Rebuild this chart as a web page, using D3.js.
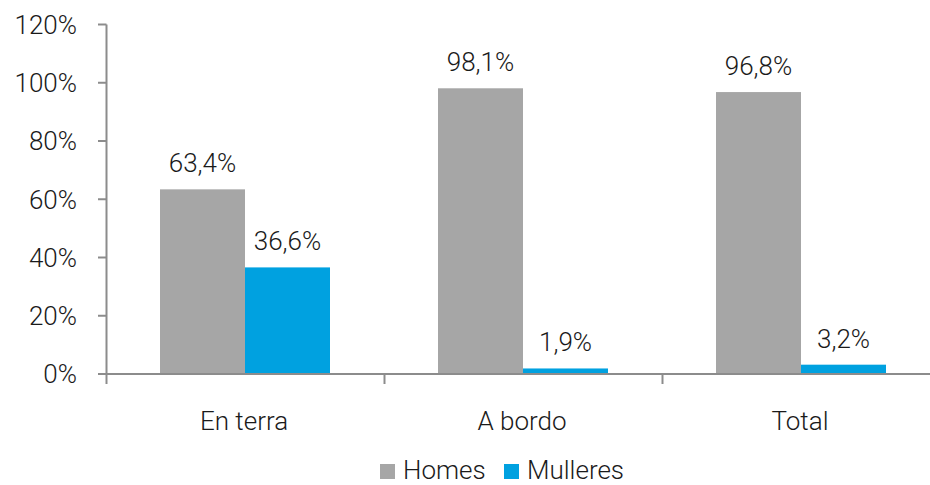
<!DOCTYPE html>
<html>
<head>
<meta charset="utf-8">
<script src="https://cdn.jsdelivr.net/npm/d3@7"></script>
<style>
  body { margin: 0; background: #fff; }
  text { font-family: "Roboto", "Liberation Sans", sans-serif; font-weight: 300; fill: #1a1a1a; }
</style>
</head>
<body>
<div id="chart"></div>
<script>
// chart data
const categories = ['En terra', 'A bordo', 'Total'];
const seriesNames = ['Homes', 'Mulleres'];
const homes = [63.4, 98.1, 96.8];
const mulleres = [36.6, 1.9, 3.2];
const yTicks = [0, 20, 40, 60, 80, 100, 120];

const colors = { Homes: '#a6a6a6', Mulleres: '#00a1e0' };
const width = 930, height = 485;
const margin = {top: 24.5, right: -9, bottom: 111, left: 105};
const fontSize = '26px';

const svg = d3.select('#chart').append('svg')
    .attr('width', width)
    .attr('height', height);

const x = d3.scaleBand()
    .domain(categories)
    .range([margin.left, width - margin.right])
    .paddingInner(0)
    .paddingOuter(0);

const xInner = d3.scaleBand()
    .domain(seriesNames)
    .range([55, x.bandwidth() - 53]);

const y = d3.scaleLinear()
    .domain([0, 120])
    .range([height - margin.bottom, margin.top]);

const rows = categories.map((c, i) => ({cat: c, Homes: homes[i], Mulleres: mulleres[i]}));

// bars
const groups = svg.selectAll('.grp')
  .data(rows)
  .join('g')
    .attr('class', 'grp')
    .attr('transform', d => `translate(${x(d.cat)},0)`);

groups.selectAll('rect')
  .data(d => seriesNames.map(s => ({key: s, value: d[s]})))
  .join('rect')
    .attr('x', d => xInner(d.key))
    .attr('width', xInner.bandwidth())
    .attr('y', d => y(d.value))
    .attr('height', d => y(0) - y(d.value))
    .attr('fill', d => colors[d.key]);

groups.selectAll('.lbl')
  .data(d => seriesNames.map(s => ({key: s, value: d[s]})))
  .join('text')
    .attr('class', 'lbl')
    .attr('x', d => xInner(d.key) + xInner.bandwidth() / 2)
    .attr('y', d => y(d.value) - 17)
    .attr('text-anchor', 'middle')
    .style('font-size', fontSize)
    .text(d => d.value.toFixed(1).replace('.', ',') + '%');

// y axis
const axisColor = '#8c8c8c';
svg.append('line')
    .attr('x1', margin.left + 1.5).attr('x2', margin.left + 1.5)
    .attr('y1', y(120)).attr('y2', y(0))
    .attr('stroke', axisColor).attr('stroke-width', 2);

svg.selectAll('.ytick')
  .data(yTicks)
  .join('line')
    .attr('class', 'ytick')
    .attr('x1', margin.left - 7).attr('x2', margin.left + 1.5)
    .attr('y1', d => y(d)).attr('y2', d => y(d))
    .attr('stroke', axisColor).attr('stroke-width', 2);

svg.selectAll('.ylbl')
  .data(yTicks)
  .join('text')
    .attr('class', 'ylbl')
    .attr('x', 77)
    .attr('y', d => y(d))
    .attr('dy', '0.36em')
    .attr('text-anchor', 'end')
    .style('font-size', fontSize)
    .text(d => d + '%');

// x axis
svg.append('line')
    .attr('x1', margin.left).attr('x2', width)
    .attr('y1', y(0)).attr('y2', y(0))
    .attr('stroke', axisColor).attr('stroke-width', 2);

svg.selectAll('.xtick')
  .data(categories.map(c => x(c)).concat([x(categories[2]) + x.bandwidth()]))
  .join('line')
    .attr('class', 'xtick')
    .attr('x1', d => d + 1.5).attr('x2', d => d + 1.5)
    .attr('y1', y(0)).attr('y2', y(0) + 10)
    .attr('stroke', axisColor).attr('stroke-width', 2);

svg.selectAll('.xlbl')
  .data(categories)
  .join('text')
    .attr('class', 'xlbl')
    .attr('x', d => x(d) + x.bandwidth() / 2)
    .attr('y', 430)
    .attr('text-anchor', 'middle')
    .style('font-size', fontSize)
    .text(d => d);

// legend
const legend = svg.append('g').attr('transform', 'translate(380,464)');
const legendX = [0, 124];
seriesNames.forEach((s, i) => {
  legend.append('rect')
      .attr('x', legendX[i]).attr('y', 0)
      .attr('width', 15).attr('height', 15)
      .attr('fill', colors[s]);
  legend.append('text')
      .attr('x', legendX[i] + 23)
      .attr('y', 15)
      .style('font-size', fontSize)
      .text(s);
});
</script>
</body>
</html>
